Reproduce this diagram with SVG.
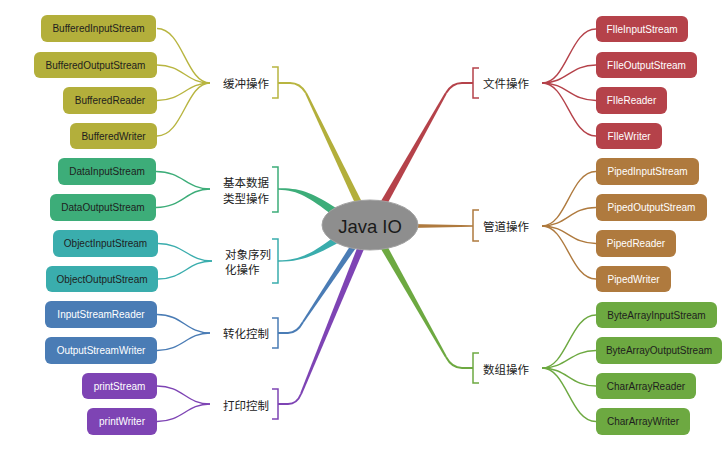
<svg xmlns="http://www.w3.org/2000/svg" width="725" height="462" viewBox="0 0 725 462">
<style>
.bx{stroke:none}
.t{font-family:"Liberation Sans",Arial,sans-serif;font-size:10px;text-anchor:middle;dominant-baseline:central}
.dk{fill:#1e1e1e}.wt{fill:#ffffff}
.lb{font-family:"Noto Sans CJK SC","Noto Sans",sans-serif;font-size:11.5px;fill:#222;dominant-baseline:central}
.ln{fill:none;stroke-width:1.4}
.br{fill:none;stroke-width:1.5}
.el{fill:none;stroke-width:2}
.olive{fill:#B3AF3B}.olS{stroke:#B8B540}
.dgreen{fill:#3DAD79}.dgS{stroke:#3DAD79}
.teal{fill:#3AADAD}.tlS{stroke:#3AADAD}
.blue{fill:#4A7CB5}.blS{stroke:#4A7CB5}
.purple{fill:#7E44B4}.ppS{stroke:#7E44B4}
.red{fill:#B5424A}.rdS{stroke:#B5424A}
.brown{fill:#AF7A3E}.bnS{stroke:#AF7A3E}
.green{fill:#6DA941}.gnS{stroke:#6DA941}
</style>

<g id="connectors">
  <!-- main branches -->
  <path class="el olS" d="M278,83 H290 Q300,83 306,93"/>
  <polygon class="olive" points="306.9,92.6 364.2,206.5 357.8,209.5 305.1,93.4"/>
  <path class="el rdS" d="M473,83 H462 Q452,83 446,93"/>
  <polygon class="red" points="446.9,93.5 384.1,209.7 377.9,206.3 445.1,92.5"/>
  <polygon class="brown" points="473,225.2 473,226.8 410,228 410,224"/>
  <path class="el gnS" d="M473,368 H462 Q452,368 446,357"/>
  <polygon class="green" points="446.9,356.5 384.1,240.3 377.9,243.7 445.1,357.5"/>
  <path class="dgreen" d="M278,188.3 C300,187.5 313,193 337,208.5 L332,214.5 C310,198.5 299,189.9 278,189.7 Z"/>
  <path class="teal" d="M278,260.3 C299,260.3 311,254 332,238.5 L337,243.5 C313,256.5 300,261.8 278,261.7 Z"/>
  <path class="el blS" d="M278,333 H288 Q297,333 303,322"/>
  <polygon class="blue" points="303.8,322.6 357.5,245.7 352.5,242.3 302.2,321.4"/>
  <path class="el ppS" d="M278,404 H288 Q297,404 301,394"/>
  <polygon class="purple" points="301.9,394.4 365.2,246.3 358.8,243.7 300.1,393.6"/>

  <!-- brackets -->
  <path class="br olS" d="M272,67 H278 V98 H272"/>
  <path class="br dgS" d="M272,167 H278 V212 H272"/>
  <path class="br tlS" d="M272,239 H278 V283 H272"/>
  <path class="br blS" d="M272,318 H278 V348 H272"/>
  <path class="br ppS" d="M272,389 H278 V419 H272"/>
  <path class="br rdS" d="M479,68 H473 V98 H479"/>
  <path class="br bnS" d="M479,210 H473 V241 H479"/>
  <path class="br gnS" d="M479,353 H473 V383 H479"/>

  <!-- leaf connectors left -->
  <g class="ln olS">
    <path d="M157,28.5 C183,28.5 186,83 210,83"/>
    <path d="M157,65 C183,65 186,83 210,83"/>
    <path d="M157,100.5 C183,100.5 186,83 210,83"/>
    <path d="M157,136 C183,136 186,83 210,83"/>
  </g>
  <g class="ln dgS">
    <path d="M156,171.5 C183,171.5 186,189 210,189"/>
    <path d="M156,207.5 C183,207.5 186,189 210,189"/>
  </g>
  <g class="ln tlS">
    <path d="M158,243.5 C184,243.5 188,261 212,261"/>
    <path d="M158,279 C184,279 188,261 212,261"/>
  </g>
  <g class="ln blS">
    <path d="M157,314.5 C183,314.5 186,333 210,333"/>
    <path d="M157,350.5 C183,350.5 186,333 210,333"/>
  </g>
  <g class="ln ppS">
    <path d="M157,386 C183,386 186,404 210,404"/>
    <path d="M157,421.5 C183,421.5 186,404 210,404"/>
  </g>
  <!-- leaf connectors right -->
  <g class="ln rdS">
    <path d="M542,83 C567,83 570,29 596,29"/>
    <path d="M542,83 C567,83 570,65 596,65"/>
    <path d="M542,83 C567,83 570,100.5 596,100.5"/>
    <path d="M542,83 C567,83 570,136 596,136"/>
  </g>
  <g class="ln bnS">
    <path d="M542,226 C567,226 570,171.5 596,171.5"/>
    <path d="M542,226 C567,226 570,207.5 596,207.5"/>
    <path d="M542,226 C567,226 570,243.5 596,243.5"/>
    <path d="M542,226 C567,226 570,279 596,279"/>
  </g>
  <g class="ln gnS">
    <path d="M542,368 C567,368 570,315 596,315"/>
    <path d="M542,368 C567,368 570,350.5 596,350.5"/>
    <path d="M542,368 C567,368 570,386 596,386"/>
    <path d="M542,368 C567,368 570,421.5 596,421.5"/>
  </g>
</g>

<g id="root">
  <ellipse cx="370" cy="225" rx="48" ry="25" fill="#8E8E8E" stroke="#A3A3A3" stroke-width="1"/>
  <text x="370" y="226" font-family="Liberation Sans,Arial,sans-serif" font-size="18.5" fill="#1a1a1a" text-anchor="middle" dominant-baseline="central">Java IO</text>
</g>

<!-- labels -->
<g id="label-buffer"><text class="lb" x="223" y="83">缓冲操作</text></g>
<g id="label-data"><text class="lb" x="223" y="182">基本数据</text><text class="lb" x="223" y="198">类型操作</text></g>
<g id="label-object"><text class="lb" x="225" y="254">对象序列</text><text class="lb" x="225" y="269">化操作</text></g>
<g id="label-convert"><text class="lb" x="223" y="333">转化控制</text></g>
<g id="label-print"><text class="lb" x="223" y="405">打印控制</text></g>
<g id="label-file"><text class="lb" x="483" y="83">文件操作</text></g>
<g id="label-pipe"><text class="lb" x="483" y="226">管道操作</text></g>
<g id="label-array"><text class="lb" x="483" y="369">数组操作</text></g>

<!-- left nodes -->
<g id="n-BufferedInputStream"><rect class="olive" x="41" y="15" width="115" height="27" rx="6"/><text class="t dk" x="98.5" y="28.5">BufferedInputStream</text></g>
<g id="n-BufferedOutputStream"><rect class="olive" x="34" y="52" width="123" height="26" rx="6"/><text class="t dk" x="95.5" y="65">BufferedOutputStream</text></g>
<g id="n-BufferedReader"><rect class="olive" x="63" y="87" width="94" height="27" rx="6"/><text class="t dk" x="110" y="100.5">BufferedReader</text></g>
<g id="n-BufferedWriter"><rect class="olive" x="70" y="123" width="87" height="26" rx="6"/><text class="t dk" x="113.5" y="136">BufferedWriter</text></g>
<g id="n-DataInputStream"><rect class="dgreen" x="58" y="158" width="98" height="27" rx="6"/><text class="t dk" x="107" y="171.5">DataInputStream</text></g>
<g id="n-DataOutputStream"><rect class="dgreen" x="50" y="194" width="106" height="27" rx="6"/><text class="t dk" x="103" y="207.5">DataOutputStream</text></g>
<g id="n-ObjectInputStream"><rect class="teal" x="53" y="230" width="105" height="27" rx="6"/><text class="t dk" x="105.5" y="243.5">ObjectInputStream</text></g>
<g id="n-ObjectOutputStream"><rect class="teal" x="46" y="266" width="112" height="26" rx="6"/><text class="t dk" x="102" y="279">ObjectOutputStream</text></g>
<g id="n-InputStreamReader"><rect class="blue" x="45" y="301" width="112" height="27" rx="6"/><text class="t wt" x="101" y="314.5">InputStreamReader</text></g>
<g id="n-OutputStreamWriter"><rect class="blue" x="45" y="337" width="112" height="27" rx="6"/><text class="t wt" x="101" y="350.5">OutputStreamWriter</text></g>
<g id="n-printStream"><rect class="purple" x="82" y="373" width="75" height="26" rx="6"/><text class="t wt" x="119.5" y="386">printStream</text></g>
<g id="n-printWriter"><rect class="purple" x="87" y="408" width="70" height="27" rx="6"/><text class="t wt" x="122" y="421.5">printWriter</text></g>

<!-- right nodes -->
<g id="n-FIleInputStream"><rect class="red" x="596" y="16" width="92" height="26" rx="6"/><text class="t wt" x="642" y="29">FIleInputStream</text></g>
<g id="n-FIleOutputStream"><rect class="red" x="596" y="52" width="101" height="26" rx="6"/><text class="t wt" x="646.5" y="65">FIleOutputStream</text></g>
<g id="n-FIleReader"><rect class="red" x="596" y="87" width="71" height="27" rx="6"/><text class="t wt" x="631.5" y="100.5">FIleReader</text></g>
<g id="n-FIleWriter"><rect class="red" x="596" y="123" width="66" height="26" rx="6"/><text class="t wt" x="629" y="136">FIleWriter</text></g>
<g id="n-PipedInputStream"><rect class="brown" x="596" y="158" width="103" height="27" rx="6"/><text class="t wt" x="647.5" y="171.5">PipedInputStream</text></g>
<g id="n-PipedOutputStream"><rect class="brown" x="596" y="194" width="111" height="27" rx="6"/><text class="t wt" x="651.5" y="207.5">PipedOutputStream</text></g>
<g id="n-PipedReader"><rect class="brown" x="596" y="230" width="80" height="27" rx="6"/><text class="t wt" x="636" y="243.5">PipedReader</text></g>
<g id="n-PipedWriter"><rect class="brown" x="596" y="266" width="75" height="26" rx="6"/><text class="t wt" x="633.5" y="279">PipedWriter</text></g>
<g id="n-ByteArrayInputStream"><rect class="green" x="596" y="302" width="121" height="26" rx="6"/><text class="t dk" x="656.5" y="315">ByteArrayInputStream</text></g>
<g id="n-ByteArrayOutputStream"><rect class="green" x="596" y="337" width="126" height="27" rx="6"/><text class="t dk" x="659" y="350.5">ByteArrayOutputStream</text></g>
<g id="n-CharArrayReader"><rect class="green" x="596" y="373" width="100" height="26" rx="6"/><text class="t dk" x="646" y="386">CharArrayReader</text></g>
<g id="n-CharArrayWriter"><rect class="green" x="596" y="408" width="94" height="27" rx="6"/><text class="t dk" x="643" y="421.5">CharArrayWriter</text></g>
</svg>
